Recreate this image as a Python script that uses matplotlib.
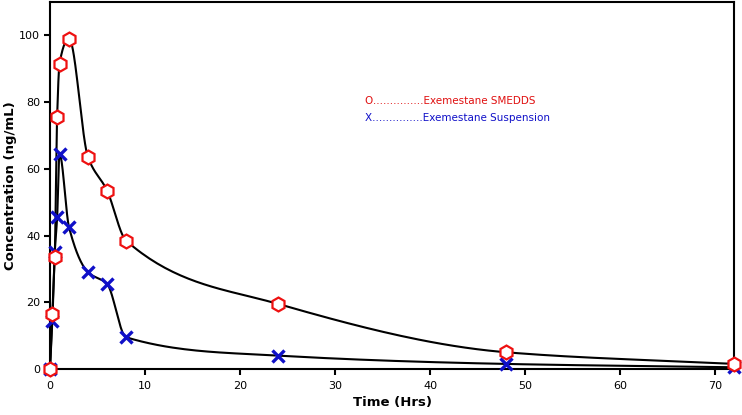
import numpy as np
import matplotlib
matplotlib.use("Agg")
import matplotlib.pyplot as plt

# sampling times (hrs)
time_hrs = [0, 0.25, 0.5, 0.75, 1, 2, 4, 6, 8, 24, 48, 72]

# plasma concentration (ng/mL)
smedds = [0, 16.5, 33.5, 75.5, 91.5, 99, 63.5, 53.5, 38.5, 19.5, 5, 1.5]
suspension = [0, 14.5, 35, 45.5, 64.5, 42.5, 29, 25.5, 9.5, 4, 1.5, 0.5]

x_ticks = [0, 10, 20, 30, 40, 50, 60, 70]
y_ticks = [0, 20, 40, 60, 80, 100]


def pchip(x, y, n=40):
    """Monotone cubic (Fritsch-Carlson) smoothing of a curve, for drawing only."""
    x = np.asarray(x, float)
    y = np.asarray(y, float)
    h = np.diff(x)
    d = np.diff(y) / h
    m = np.zeros_like(y)
    m[0], m[-1] = d[0], d[-1]
    for k in range(1, len(x) - 1):
        if d[k - 1] * d[k] > 0:
            w1 = 2 * h[k] + h[k - 1]
            w2 = h[k] + 2 * h[k - 1]
            m[k] = (w1 + w2) / (w1 / d[k - 1] + w2 / d[k])
    xs, ys = [], []
    for k in range(len(x) - 1):
        t = np.linspace(0, 1, n)
        h00 = 2 * t**3 - 3 * t**2 + 1
        h10 = t**3 - 2 * t**2 + t
        h01 = -2 * t**3 + 3 * t**2
        h11 = t**3 - t**2
        xs.append(x[k] + t * h[k])
        ys.append(h00 * y[k] + h10 * h[k] * m[k] + h01 * y[k + 1] + h11 * h[k] * m[k + 1])
    return np.concatenate(xs), np.concatenate(ys)


fig = plt.figure(figsize=(7.42, 4.15), dpi=100)
ax = fig.add_axes([0.0674, 0.111, 0.922, 0.884])

for series in (smedds, suspension):
    sx, sy = pchip(time_hrs, series)
    ax.plot(sx, sy, color="black", lw=1.5, zorder=2)

ax.plot(time_hrs, suspension, linestyle="none", marker="x", ms=9, mew=2.4,
        color="#1010c8", clip_on=False, zorder=3)
ax.plot(time_hrs, smedds, linestyle="none", marker="h", ms=10, mew=1.6,
        mec="#ee1111", mfc="white", clip_on=False, zorder=4)

ax.set_xlim(0, 72)
ax.set_ylim(0, 110)
ax.set_xticks(x_ticks)
ax.set_yticks(y_ticks)
ax.tick_params(direction="out", length=4, width=1.5, labelsize=8)
ax.tick_params(axis="x", pad=5)
ax.tick_params(axis="y", pad=3)
for s in ax.spines.values():
    s.set_linewidth(1.5)

ax.set_xlabel("Time (Hrs)", fontsize=9.5, fontweight="bold", labelpad=3)
ax.set_ylabel("Concentration (ng/mL)", fontsize=9.5, fontweight="bold", labelpad=2)

ax.text(0.461, 0.731, "O...............Exemestane SMEDDS", transform=ax.transAxes,
        color="#e01010", fontsize=7.5, va="center")
ax.text(0.461, 0.684, "X...............Exemestane Suspension", transform=ax.transAxes,
        color="#1010c8", fontsize=7.5, va="center")

fig.savefig("out.png", dpi=100)
